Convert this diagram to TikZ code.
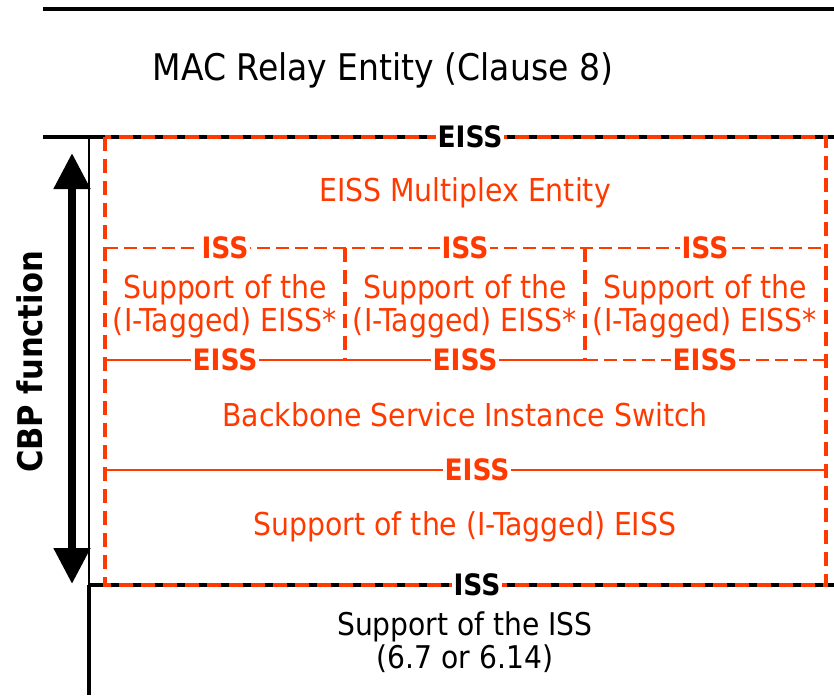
\documentclass[tikz,border=0pt]{standalone}
\usepackage{fontspec}
\setmainfont{DejaVu Sans Condensed}
\usetikzlibrary{arrows.meta}
\definecolor{ieeered}{RGB}{255,58,0}
\tikzset{
 redtxt/.style={text=ieeered, font=\fontsize{31.5}{33}\selectfont, align=center, inner sep=0pt},
 blktxt/.style={text=black, font=\fontsize{31.3}{33}\selectfont, align=center, inner sep=0pt},
 redlbl/.style={text=ieeered, font=\bfseries\fontsize{29.5}{30}\selectfont, fill=white, inner sep=1.5pt},
 blklbl/.style={text=black, font=\bfseries\fontsize{29.5}{30}\selectfont, fill=white, inner sep=1.5pt},
 reddash/.style={draw=ieeered, line width=3.5pt, dash pattern=on 14pt off 8pt},
 redthin/.style={draw=ieeered, line width=2.8pt, dash pattern=on 13pt off 6pt},
 redsolid/.style={draw=ieeered, line width=2.8pt},
 blkline/.style={draw=black, line width=3.5pt},
 bigtip/.style={line width=8pt, {Triangle[width=35pt,length=36pt]}-{Triangle[width=35pt,length=36pt]}},
}
\begin{document}
\begin{tikzpicture}[x=1pt,y=-1pt]
\useasboundingbox (0,0) rectangle (834,695);
% black frame lines
\coordinate (tl1) at (43,9);   \coordinate (tr1) at (834,9);
\coordinate (tl2) at (43,137); \coordinate (tr2) at (834,137);
\coordinate (vl1) at (89,137); \coordinate (vl2) at (89,585);
\coordinate (vl3) at (89,695); \coordinate (br) at (834,585);
\draw[blkline] (tl1) -- (tr1);
\draw[blkline] (tl2) -- (tr2);
\draw[line width=1.8pt] (vl1) -- (vl2);
\draw[blkline] (vl2) -- (vl3);
\draw[blkline] (vl2) -- (br);
\node[blktxt, font=\fontsize{36.7}{40}\selectfont] (title) at (383,70) {MAC Relay Entity (Clause 8)};
% red dashed box
\coordinate (rb1) at (105,137); \coordinate (rb2) at (826,585);
\draw[reddash] (rb1) rectangle (rb2);
% internal lines
\coordinate (iss1) at (105,248); \coordinate (iss2) at (826,248);
\draw[redthin] (iss1) -- (iss2);
\coordinate (d1a) at (345,248); \coordinate (d1b) at (345,360);
\coordinate (d2a) at (585,248); \coordinate (d2b) at (585,360);
\draw[reddash] (d1a) -- (d1b);
\draw[reddash] (d2a) -- (d2b);
\coordinate (e1) at (105,360); \coordinate (e2) at (826,360);
\draw[redsolid] (e1) -- (d2b);
\draw[redthin] (d2b) -- (e2);
\coordinate (f1) at (105,470); \coordinate (f2) at (826,470);
\draw[redsolid] (f1) -- (f2);
% labels on lines
\node[blklbl] (eisstop) at (470,137) {EISS};
\node[blklbl] (issbot) at (477,585) {ISS};
\node[redlbl] (issA) at (225,248) {ISS};
\node[redlbl] (issB) at (465,248) {ISS};
\node[redlbl] (issC) at (705,248) {ISS};
\node[redlbl] (eissA) at (225,360) {EISS};
\node[redlbl] (eissB) at (465,360) {EISS};
\node[redlbl] (eissC) at (705,360) {EISS};
\node[redlbl] (eissD) at (477,470) {EISS};
% texts
\node[redtxt] (mux) at (465,193) {EISS Multiplex Entity};
\node[redtxt] (supA) at (225,306) {Support of the\\(I-Tagged) EISS*};
\node[redtxt] (supB) at (465,306) {Support of the\\(I-Tagged) EISS*};
\node[redtxt] (supC) at (705,306) {Support of the\\(I-Tagged) EISS*};
\node[redtxt] (bsi) at (465,415) {Backbone Service Instance Switch};
\node[redtxt] (supI) at (465,527) {Support of the (I-Tagged) EISS};
\node[blktxt] (supISS) at (465,642) {Support of the ISS\\(6.7 or 6.14)};
% arrow and side label
\coordinate (atop) at (72,153); \coordinate (abot) at (72,584);
\draw[bigtip] (atop) -- (abot);
\node[rotate=90, font=\bfseries\fontsize{34}{36}\selectfont] (cbp) at (30,362) {CBP function};
\end{tikzpicture}
\end{document}
